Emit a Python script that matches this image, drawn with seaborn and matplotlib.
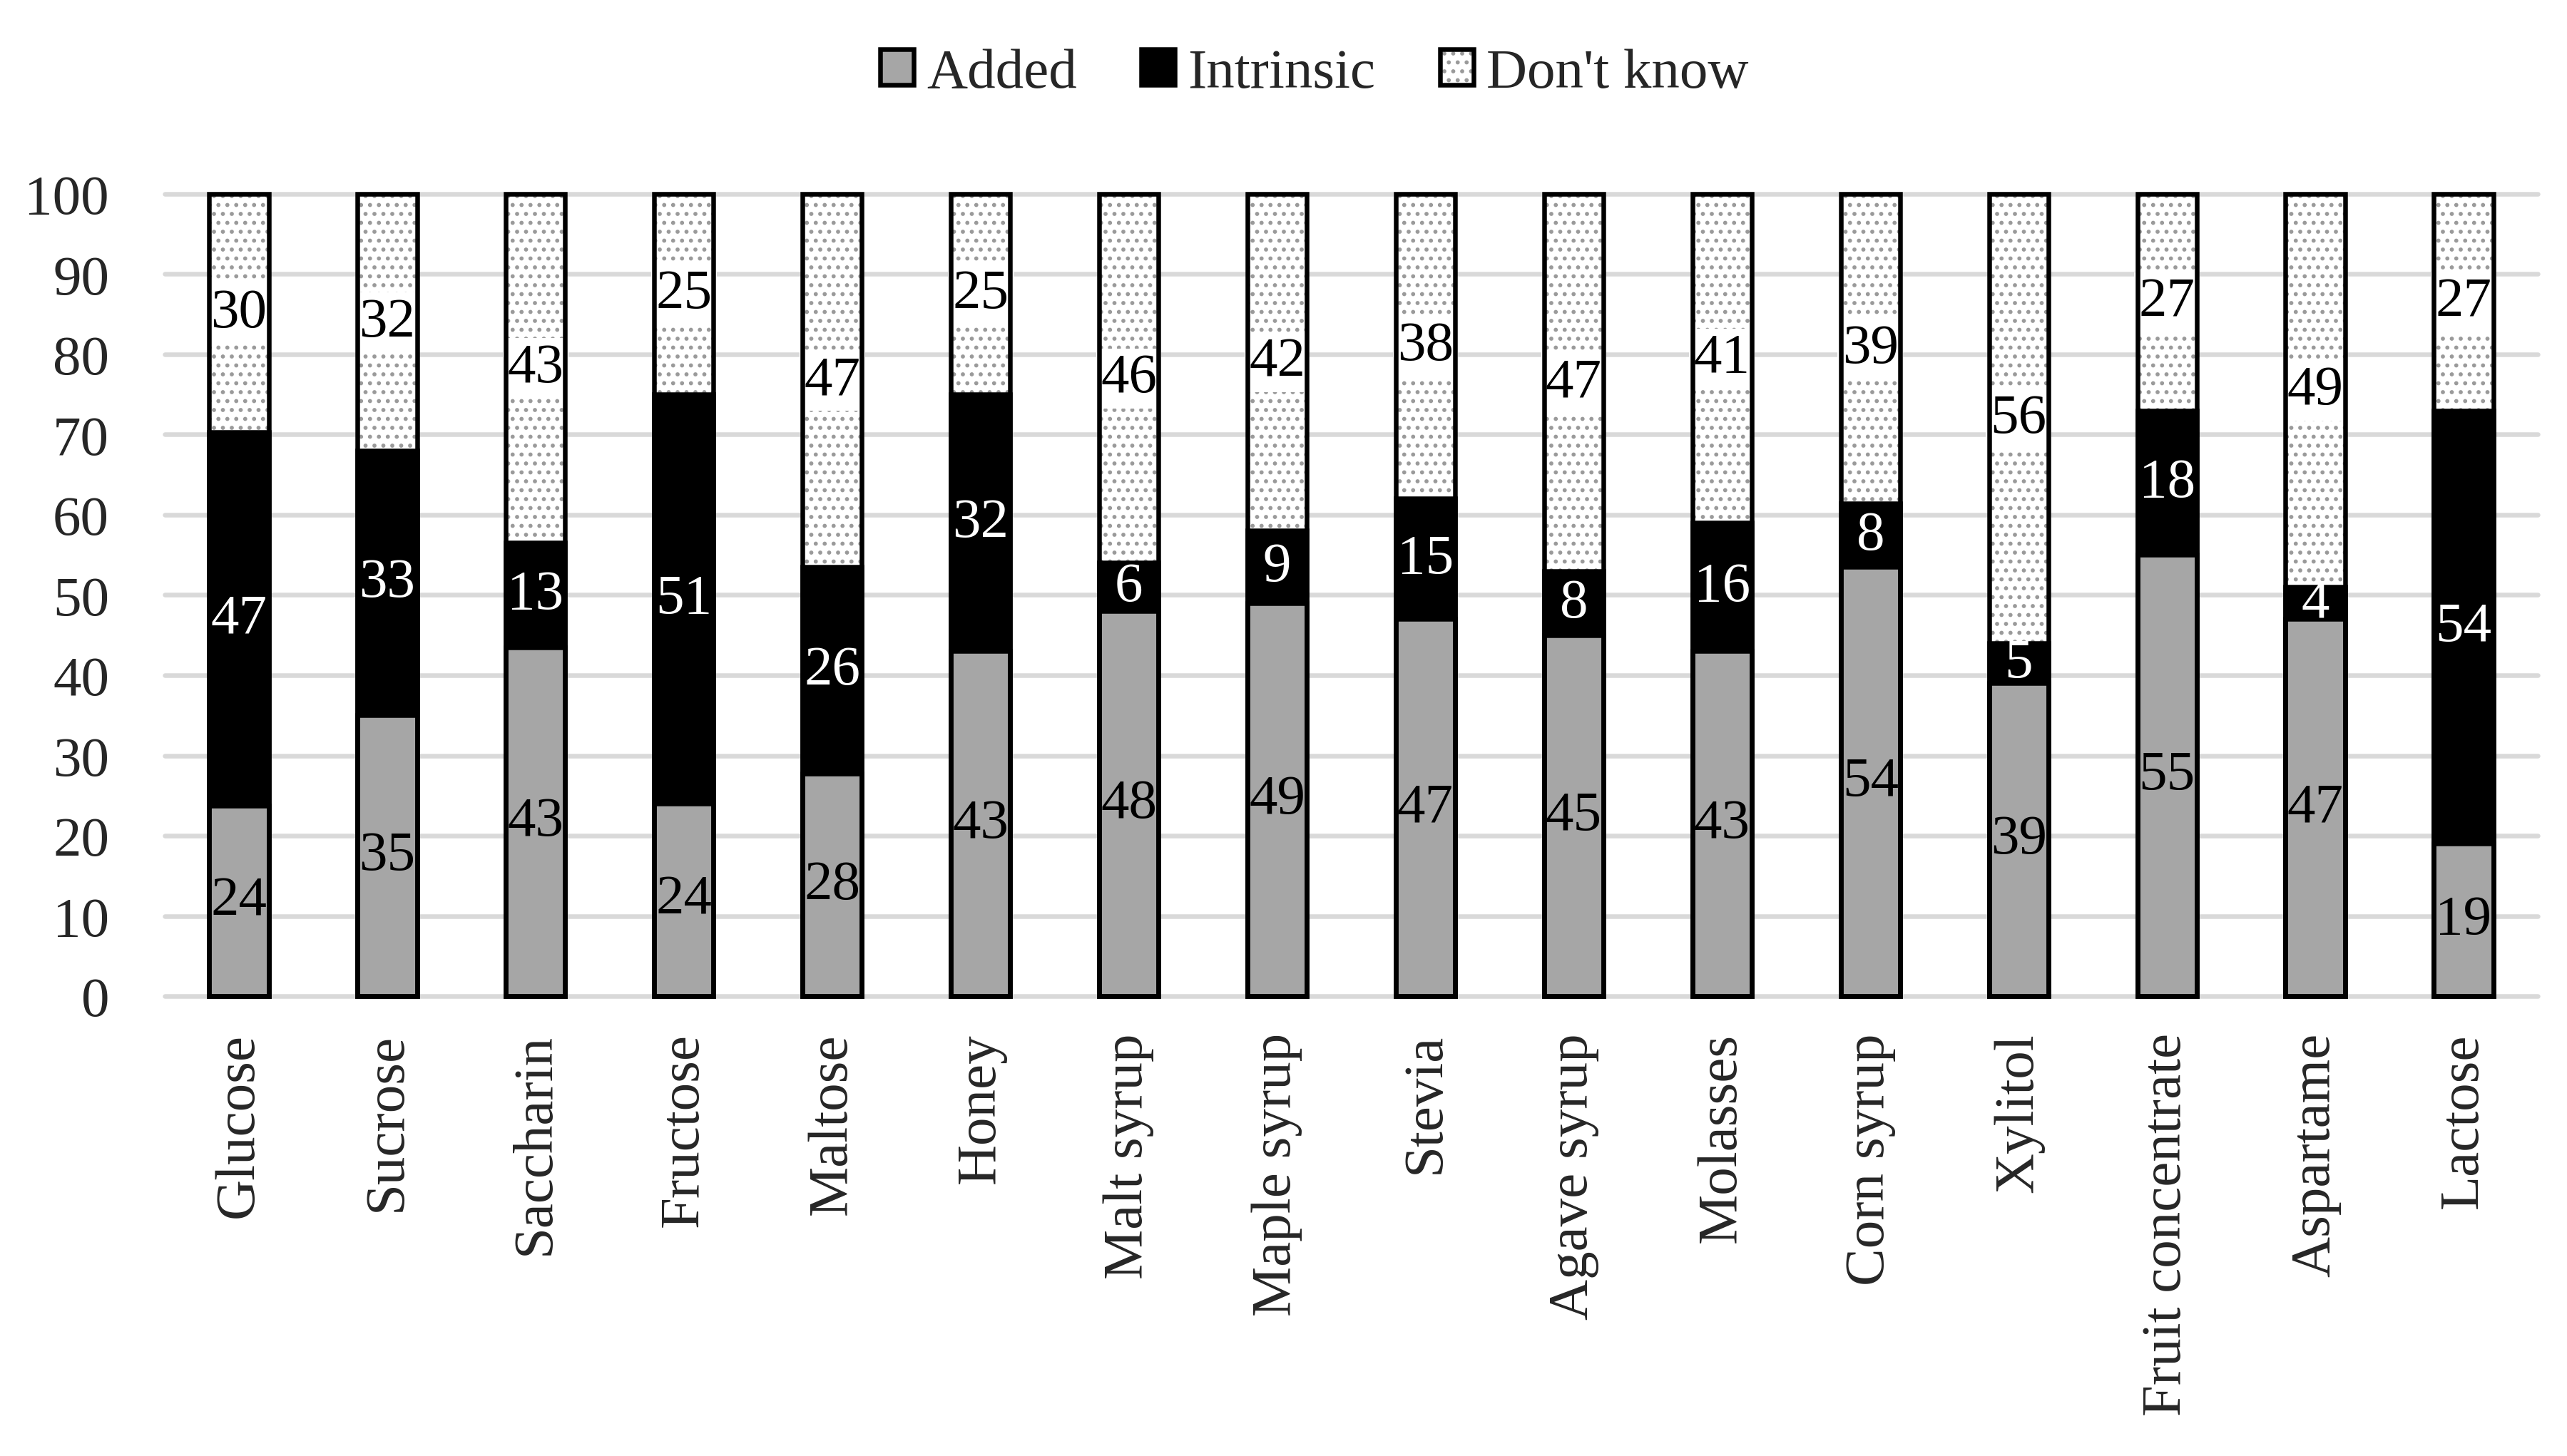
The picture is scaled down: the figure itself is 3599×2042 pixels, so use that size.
import numpy as np
import pandas as pd
import seaborn as sns
import matplotlib.pyplot as plt
from matplotlib.patches import Patch
from matplotlib.legend_handler import HandlerTuple

sweeteners = ['Glucose', 'Sucrose', 'Saccharin', 'Fructose', 'Maltose', 'Honey',
              'Malt syrup', 'Maple syrup', 'Stevia', 'Agave syrup', 'Molasses',
              'Corn syrup', 'Xylitol', 'Fruit concentrate', 'Aspartame', 'Lactose']
added = [24, 35, 43, 24, 28, 43, 48, 49, 47, 45, 43, 54, 39, 55, 47, 19]
intrinsic = [47, 33, 13, 51, 26, 32, 6, 9, 15, 8, 16, 8, 5, 18, 4, 54]
dont_know = [30, 32, 43, 25, 47, 25, 46, 42, 38, 47, 41, 39, 56, 27, 49, 27]

df = pd.DataFrame({'sweetener': sweeteners, 'Added': added,
                   'Intrinsic': intrinsic, "Don't know": dont_know})
# 100% stacked: scale each bar to 100
tot = df['Added'] + df['Intrinsic'] + df["Don't know"]
df['added_top'] = df['Added'] / tot * 100
df['intr_top'] = (df['Added'] + df['Intrinsic']) / tot * 100
df['all_top'] = 100.0

DPI = 75
px = 72 / DPI  # pixels -> points
FS = 79 * px
LW = 6.5 * px
GRAY = '#a6a6a6'
DOT = '#9a9a9a'

sns.set_style('white')
plt.rcParams['font.family'] = ['Liberation Serif', 'DejaVu Serif']
plt.rcParams['hatch.linewidth'] = 3.2 * px

fig, ax = plt.subplots(figsize=(3599 / DPI, 2043 / DPI), dpi=DPI)
fig.subplots_adjust(left=0.0642, right=0.9886, top=0.8664, bottom=0.3157)

W = 0.4

def layer(col, face, edge, lw, hatch=None, z=1):
    n0 = len(ax.patches)
    sns.barplot(data=df, x='sweetener', y=col, color='white', width=W,
                saturation=1, errorbar=None, ax=ax)
    for p in ax.patches[n0:]:
        p.set_facecolor(face)
        p.set_edgecolor(edge)
        p.set_linewidth(lw)
        p.set_clip_on(False)
        p.set_zorder(z)
        if hatch:
            p.set_hatch(hatch)

# dotted "don't know" layer (gray dots), then black outline on top of the label boxes
layer('all_top', 'white', DOT, 0, hatch='.', z=1)
layer('all_top', 'none', 'black', LW, z=6)
layer('intr_top', 'black', 'black', LW, z=2)
layer('added_top', GRAY, 'black', LW, z=3)

for i in range(len(sweeteners)):
    a = df['added_top'][i]
    b = df['intr_top'][i]
    ax.text(i, a / 2, str(added[i]), ha='center', va='center',
            color='black', fontsize=FS, zorder=5)
    ax.text(i, (a + b) / 2, str(intrinsic[i]), ha='center', va='center',
            color='white', fontsize=FS, zorder=5)
    ax.text(i, (b + 100) / 2, str(dont_know[i]), ha='center', va='center',
            color='black', fontsize=FS, zorder=5,
            bbox=dict(boxstyle='square,pad=0.08', fc='white', ec='none'))

ax.set_ylim(0, 100)
ax.set_yticks(range(0, 101, 10))
ax.set_xlabel('')
ax.set_ylabel('')
ax.yaxis.grid(True, color='#d9d9d9', linewidth=LW)
ax.xaxis.grid(False)
ax.set_axisbelow(True)
for gl in ax.get_ygridlines():
    gl.set_clip_on(False)
sns.despine(ax=ax, left=True, bottom=True)
ax.tick_params(axis='y', length=0, pad=78 * px, labelsize=FS)
ax.tick_params(axis='x', length=0, pad=51 * px, labelsize=FS, labelrotation=90)

handles = [
    Patch(facecolor=GRAY, edgecolor='black', linewidth=LW),
    Patch(facecolor='black', edgecolor='black', linewidth=LW),
    (Patch(facecolor='white', edgecolor=DOT, linewidth=0, hatch='.'),
     Patch(facecolor='none', edgecolor='black', linewidth=LW)),
]
fig.legend(handles, ['Added', 'Intrinsic', "Don't know"],
           handler_map={tuple: HandlerTuple(ndivide=1, pad=0)},
           loc='center', bbox_to_anchor=(0.512, 0.949), ncol=3, frameon=False,
           fontsize=FS, handlelength=0.6, handleheight=0.6,
           handletextpad=0.23, columnspacing=1.14)

fig.savefig('out.png', dpi=DPI)
